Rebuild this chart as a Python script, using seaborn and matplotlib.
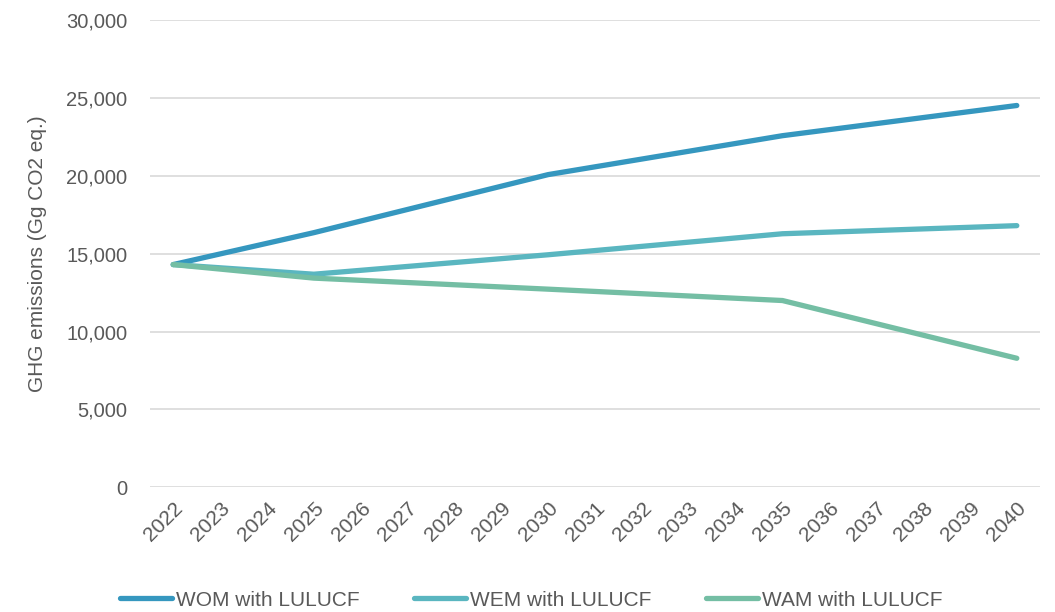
import numpy as np
import pandas as pd
import seaborn as sns
import matplotlib.pyplot as plt
from matplotlib.ticker import FuncFormatter

# values; only the milestone years carry data
years = list(range(2022, 2041))
milestone_years = [2022, 2025, 2030, 2035, 2040]
wom_values = [14300, 16350, 20080, 22580, 24520]
wem_values = [14300, 13680, 14930, 16280, 16800]
wam_values = [14300, 13430, 12720, 11990, 8280]

series_names = ['WOM with LULUCF', 'WEM with LULUCF', 'WAM with LULUCF']
series_colors = ['#3597BF', '#5AB6C0', '#74BEA4']

frames = []
for name, vals in zip(series_names, [wom_values, wem_values, wam_values]):
    frames.append(pd.DataFrame({'Year': milestone_years, 'Emissions': vals, 'Scenario': name}))
df = pd.concat(frames, ignore_index=True)

sns.set_theme(style='white')
plt.rcParams['font.family'] = ['Liberation Sans', 'DejaVu Sans']

fig = plt.figure(figsize=(10.55, 6.12), dpi=100)
ax = fig.add_axes([0.142, 0.204, 0.844, 0.763])

sns.lineplot(data=df, x='Year', y='Emissions', hue='Scenario', hue_order=series_names,
             palette=series_colors, linewidth=3.8, ax=ax, legend=True)
for line in ax.get_lines():
    line.set_solid_capstyle('round')

ax.set_xlim(2021.5, 2040.5)
ax.set_ylim(0, 30000)
ax.set_yticks(np.arange(0, 30001, 5000))
ax.yaxis.set_major_formatter(FuncFormatter(lambda v, p: f'{int(v):,}'))
ax.set_xticks(years)
ax.set_xticklabels([str(y) for y in years], rotation=45, ha='right', rotation_mode='anchor')

ax.grid(axis='y', color='#D9D9D9', linewidth=1.2)
ax.set_axisbelow(True)
for s in ax.spines.values():
    s.set_visible(False)

ax.tick_params(axis='y', labelsize=14.5, colors='#595959', length=0, pad=16)
ax.tick_params(axis='x', labelsize=15, colors='#595959', length=0, pad=8)
ax.set_xlabel('')
ax.set_ylabel('GHG emissions (Gg CO2 eq.)', fontsize=15, color='#595959', labelpad=14)

handles, labels = ax.get_legend_handles_labels()
ax.legend(handles, labels, loc='center', bbox_to_anchor=(531 / 1055, 1 - 600 / 612),
          bbox_transform=fig.transFigure, ncol=3,
          frameon=False, fontsize=15, labelcolor='#595959', handlelength=2.5,
          handletextpad=0.2, columnspacing=2.6, borderaxespad=0, borderpad=0)
for h in ax.get_legend().get_lines():
    h.set_linewidth(3.8)
    h.set_solid_capstyle('round')

fig.savefig('out.png', dpi=100)
